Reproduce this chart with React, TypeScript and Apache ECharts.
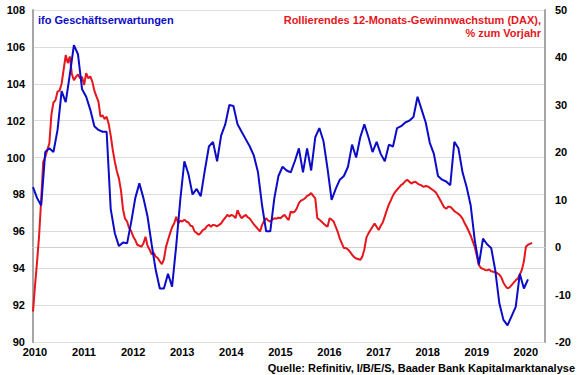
import React, { useEffect, useRef } from "react";
import * as echarts from "echarts";

// ifo Geschäftserwartungen, monthly from Jan 2010
const ifoStartYear = 2010;
const ifoValues = [
  98.4, 97.8, 97.4, 100.3, 100.5, 100.3, 101.5, 103.6, 103.0, 104.5, 106.1, 105.6,
  103.7, 103.3, 102.6, 101.7, 101.5, 101.4, 101.4, 97.2, 95.9, 95.2, 95.4, 95.35,
  96.5, 97.8, 98.6, 97.8, 96.8, 95.3, 93.9, 92.9, 92.9, 93.7, 93.0, 95.2,
  97.7, 99.8, 99.1, 98.0, 98.3, 97.9, 99.3, 100.6, 100.85, 99.8, 101.2, 101.8,
  102.85, 102.8, 101.8, 101.4, 101.0, 100.6, 100.1, 99.2, 97.4, 96.0, 96.0, 97.8,
  99.0, 99.5, 99.3, 99.2, 99.8, 100.5, 99.2, 100.5, 99.3, 101.1, 101.6, 100.9,
  99.4, 97.7, 98.3, 98.8, 99.0, 99.5, 100.7, 100.0, 101.1, 101.8, 101.1, 100.3,
  100.85, 100.2, 99.8, 100.7, 100.6, 101.6, 101.7, 101.9, 102.0, 102.2, 103.3, 102.6,
  101.9, 100.8, 100.2, 99.0, 98.8, 98.7, 98.5, 100.85, 100.5, 99.2, 98.4, 97.4,
  95.5, 94.2, 95.6, 95.3, 95.1, 93.9, 92.1, 91.2, 90.9, 91.4, 91.9, 93.7,
  92.9, 93.4,
];

// Rollierendes 12-Monats-Gewinnwachstum (DAX), % zum Vorjahr, half-monthly from Jan 2010
const earningsStartYear = 2010;
const earningsValues = [
  -13.6, -8.0, -3.0, 2.5, 10.0, 18.0, 19.0, 20.5, 21.9, 28.0, 30.5, 31.0,
  32.8, 33.0, 34.5, 37.5, 40.5, 38.8, 40.2, 36.5, 35.2, 35.9, 36.4, 35.6,
  35.9, 34.2, 36.7, 35.6, 36.0, 34.9, 33.0, 31.8, 30.7, 27.5, 27.8, 27.0,
  27.5, 26.0, 23.5, 20.5, 18.0, 16.0, 14.5, 12.0, 8.0, 6.0, 5.4, 4.0,
  3.4, 2.2, 1.5, 0.5, 0.3, 0.1, 0.8, 2.2, 0.3, -0.5, -1.5, -1.2,
  -2.0, -2.3, -3.0, -3.6, -2.6, 0.0, 1.5, 2.9, 4.2, 5.0, 6.4, 5.0,
  5.6, 5.4, 5.8, 5.4, 5.2, 4.5, 4.4, 3.3, 3.0, 2.6, 3.0, 3.6,
  3.8, 4.4, 4.7, 4.3, 4.7, 4.6, 4.4, 4.7, 5.0, 5.7, 6.2, 6.8,
  6.5, 6.8, 6.6, 6.1, 7.8, 6.8, 6.1, 6.5, 6.8, 6.3, 6.0, 5.4,
  4.8, 4.3, 3.8, 3.3, 4.7, 5.5, 6.1, 5.6, 5.4, 5.8, 6.1, 6.0,
  6.2, 6.1, 6.5, 6.8, 6.2, 5.7, 7.5, 7.3, 7.5, 8.2, 9.3, 9.8,
  10.0, 10.3, 10.8, 11.0, 11.4, 10.8, 10.3, 6.1, 5.8, 5.4, 5.0, 4.6,
  4.3, 6.1, 5.8, 5.4, 4.3, 3.2, 1.8, 0.8, -0.2, -0.2, -0.5, -1.0,
  -1.6, -2.1, -2.4, -2.5, -2.7, -2.0, -0.5, 2.0, 2.9, 3.6, 4.3, 5.0,
  4.3, 3.6, 4.5, 5.2, 6.5, 7.8, 9.0, 9.9, 10.9, 11.6, 12.1, 12.6,
  13.1, 13.4, 13.9, 14.2, 13.8, 13.4, 13.7, 13.8, 13.4, 13.2, 13.0, 12.7,
  12.9, 12.8, 12.5, 12.2, 11.9, 11.5, 10.8, 10.0, 9.2, 8.4, 8.1, 8.5,
  8.5, 8.1, 7.6, 7.3, 7.0, 6.6, 6.0, 5.1, 4.3, 3.4, 2.4, 1.2,
  0.0, -1.8, -3.8, -4.4, -4.6, -4.8, -4.9, -4.7, -5.1, -5.2, -5.3, -5.5,
  -5.8, -6.4, -7.5, -8.2, -8.7, -8.5, -8.0, -7.5, -7.0, -6.6, -5.8, -4.8,
  -3.0, 0.1, 0.5, 0.7, 0.9,
];

const yearLabels = [2010, 2011, 2012, 2013, 2014, 2015, 2016, 2017, 2018, 2019, 2020];

const ifoTitle = "ifo Geschäftserwartungen";
const earningsTitleLines = ["Rollierendes 12-Monats-Gewinnwachstum (DAX),", "% zum Vorjahr"];
const sourceText = "Quelle: Refinitiv, I/B/E/S, Baader Bank Kapitalmarktanalyse";

const BLUE = "#0b0bc8";
const RED = "#e5161c";
const FONT = '"Liberation Sans", Arial, sans-serif';

export default function App() {
  const ref = useRef<HTMLDivElement>(null);

  useEffect(() => {
    if (!ref.current) return;
    const chart = echarts.init(ref.current, null, { renderer: "svg" });

    const ifoData = ifoValues.map((v, i) => [ifoStartYear + i / 12, v]);
    const earningsData = earningsValues.map((v, i) => [earningsStartYear + i / 24, v]);

    const labelStyle = {
      color: "#000",
      fontFamily: FONT,
      fontWeight: "bold" as const,
      fontSize: 11,
    };

    chart.setOption({
      animation: false,
      backgroundColor: "#fff",
      grid: { left: 33, right: 35, top: 10, bottom: 33, containLabel: false },
      xAxis: {
        type: "value",
        min: 2010,
        max: 2020.43,
        axisLine: { show: true, lineStyle: { color: "#d0d0d0", width: 1 } },
        axisTick: { show: false },
        splitLine: { show: false },
        axisLabel: {
          ...labelStyle,
          margin: 4,
          customValues: yearLabels.map((y) => y + 0.04),
          formatter: (v: number) => String(Math.floor(v)),
        },
      },
      yAxis: [
        {
          type: "value",
          min: 90,
          max: 108,
          interval: 2,
          position: "left",
          axisLine: { show: true, lineStyle: { color: "#a6a6a6", width: 2 } },
          axisTick: { show: false },
          splitLine: { show: true, lineStyle: { color: "#dcdcdc", width: 1 } },
          axisLabel: { ...labelStyle, margin: 8 },
        },
        {
          type: "value",
          min: -20,
          max: 50,
          interval: 10,
          position: "right",
          axisLine: { show: true, lineStyle: { color: "#a6a6a6", width: 2 } },
          axisTick: { show: false },
          splitLine: { show: false },
          axisLabel: { ...labelStyle, margin: 10 },
        },
      ],
      series: [
        {
          name: "Gewinnwachstum",
          type: "line",
          yAxisIndex: 1,
          data: earningsData,
          showSymbol: false,
          lineStyle: { color: RED, width: 2 },
          z: 2,
        },
        {
          name: "ifo",
          type: "line",
          yAxisIndex: 0,
          data: ifoData,
          showSymbol: false,
          lineStyle: { color: BLUE, width: 2 },
          z: 3,
        },
      ],
      graphic: [
        {
          type: "text",
          left: 38,
          top: 14,
          style: { text: ifoTitle, fill: BLUE, font: `bold 11px ${FONT}` },
        },
        {
          type: "text",
          right: 39,
          top: 14,
          style: { text: earningsTitleLines[0], fill: RED, font: `bold 11px ${FONT}` },
        },
        {
          type: "text",
          right: 39,
          top: 27,
          style: { text: earningsTitleLines[1], fill: RED, font: `bold 11px ${FONT}` },
        },
        {
          type: "text",
          right: 5,
          top: 362,
          style: { text: sourceText, fill: "#000", font: `bold 11px ${FONT}` },
        },
      ],
    });

    return () => chart.dispose();
  }, []);

  return (
    <div style={{ position: "absolute", left: 0, top: 0, width: 580, height: 375 }}>
      <div ref={ref} style={{ width: 580, height: 375 }} />
    </div>
  );
}
